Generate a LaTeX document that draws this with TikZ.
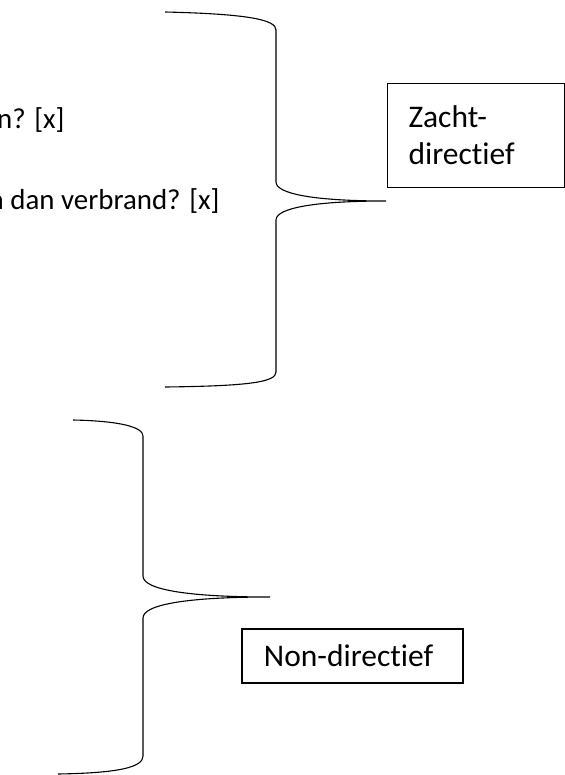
\documentclass[tikz,border=0pt]{standalone}
\usepackage{fontspec}
\setmainfont{Carlito}[Ligatures=NoCommon]

\begin{document}
\begin{tikzpicture}[x=0.5pt,y=-0.5pt]
                        \tikzstyle{brace}=[line width=0.55pt]
                        \tikzstyle{label}=[draw, anchor=north west, align=left, font=\fontsize{15.75}{18.5}\selectfont]
                        \tikzstyle{line}=[anchor=base east, inner sep=0pt, font=\fontsize{14.45}{17}\selectfont]
                        \useasboundingbox (0,0) rectangle (565,775);
                        \node[line] (vraageen) at (65,129) {en? [x]};
                        \node[line] (vraagtwee) at (220,210) {n dan verbrand? [x]};
                        \draw[brace] (165,12) .. controls (250,14) and (276,20) .. (276,30)
                            -- (276,182) .. controls (276,194) and (315,201) .. (386,201)
                            coordinate (puntzacht)
                            .. controls (315,201) and (276,208) .. (276,220)
                            -- (276,372) .. controls (276,382) and (250,386) .. (165,387);
                        \draw[brace] (73,420) .. controls (120,421) and (143,427) .. (143,436)
                            -- (143,576) .. controls (143,590) and (190,597) .. (270,597)
                            coordinate (puntnon)
                            .. controls (190,597) and (143,604) .. (143,618)
                            -- (143,756) .. controls (143,767) and (120,773) .. (58,774);
                        \node[label, line width=0.5pt, text width=67.5pt, inner xsep=10.5pt, minimum height=52pt]
                            (zacht) at (387,83) {Zacht-\\directief};
                        \node[label, line width=0.9pt, text width=88.5pt, inner xsep=11pt, minimum height=27pt]
                            (non) at (241,628) {Non-directief};
\end{tikzpicture}
\end{document}
